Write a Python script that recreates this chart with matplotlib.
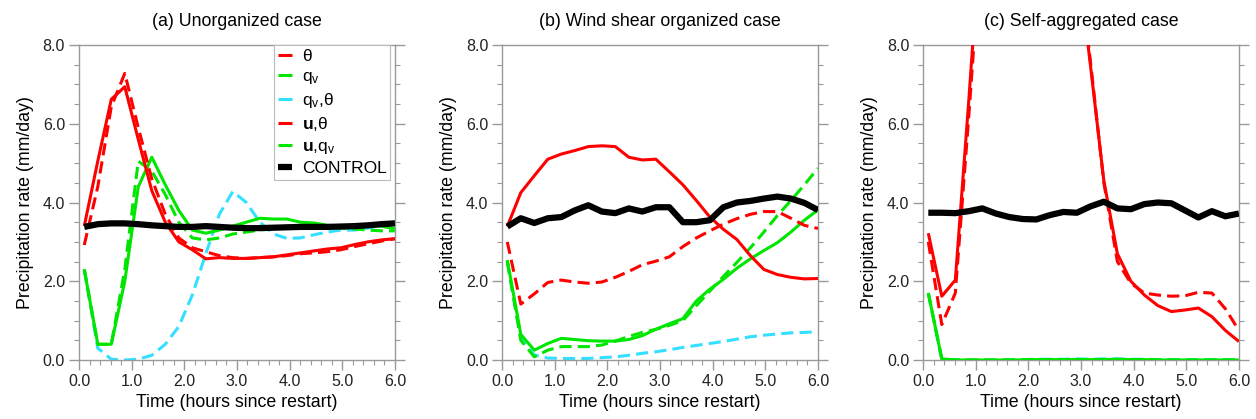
import numpy as np
import matplotlib
matplotlib.use('Agg')
import matplotlib.pyplot as plt
from matplotlib.ticker import MultipleLocator

plt.rcParams['font.family'] = ['Liberation Sans', 'DejaVu Sans']
plt.rcParams['mathtext.fontset'] = 'custom'
plt.rcParams['mathtext.rm'] = 'Liberation Sans'
plt.rcParams['mathtext.it'] = 'Liberation Sans:italic'
plt.rcParams['mathtext.bf'] = 'Liberation Sans:bold'

# output times (hours since restart)
time = np.linspace(0.1, 6.0, 24)

# (a) unorganized case
a_theta = [3.40, 5.05, 6.62, 6.94, 5.60, 4.30, 3.50, 3.00, 2.80, 2.57, 2.60, 2.58,
           2.58, 2.60, 2.62, 2.67, 2.72, 2.77, 2.82, 2.85, 2.93, 3.00, 3.05, 3.08]
a_qv = [2.30, 0.40, 0.40, 2.00, 4.40, 5.15, 4.45, 3.80, 3.30, 3.22, 3.30, 3.40,
        3.50, 3.60, 3.58, 3.58, 3.50, 3.48, 3.42, 3.40, 3.42, 3.42, 3.40, 3.33]
a_qv_theta = [2.30, 0.30, 0.02, 0.00, 0.02, 0.12, 0.40, 0.85, 1.65, 2.70, 3.70, 4.28,
              4.00, 3.50, 3.20, 3.09, 3.10, 3.18, 3.25, 3.30, 3.30, 3.35, 3.42, 3.52]
a_u_theta = [2.92, 4.40, 6.43, 7.28, 5.90, 4.60, 3.70, 3.10, 2.85, 2.75, 2.65, 2.60,
             2.58, 2.60, 2.62, 2.65, 2.70, 2.72, 2.75, 2.80, 2.88, 2.95, 3.02, 3.08]
a_u_qv = [2.30, 0.40, 0.40, 2.30, 5.05, 4.80, 4.20, 3.50, 3.10, 3.05, 3.10, 3.20,
          3.25, 3.30, 3.35, 3.40, 3.40, 3.40, 3.38, 3.35, 3.33, 3.30, 3.28, 3.28]
a_control = [3.38, 3.45, 3.47, 3.47, 3.45, 3.42, 3.40, 3.38, 3.38, 3.40, 3.38, 3.36,
             3.35, 3.35, 3.36, 3.37, 3.38, 3.38, 3.38, 3.39, 3.40, 3.42, 3.45, 3.47]

# (b) wind shear organized case
b_theta = [3.39, 4.25, 4.68, 5.10, 5.23, 5.32, 5.42, 5.44, 5.42, 5.15, 5.08, 5.10,
           4.78, 4.45, 4.05, 3.63, 3.32, 3.06, 2.65, 2.30, 2.17, 2.10, 2.06, 2.07]
b_qv = [2.54, 0.65, 0.25, 0.42, 0.55, 0.52, 0.49, 0.48, 0.48, 0.52, 0.62, 0.78,
        0.92, 1.05, 1.50, 1.80, 2.05, 2.33, 2.57, 2.78, 2.98, 3.25, 3.55, 3.81]
b_qv_theta = [2.50, 0.55, 0.13, 0.05, 0.04, 0.04, 0.04, 0.06, 0.08, 0.12, 0.17, 0.21,
              0.26, 0.32, 0.37, 0.42, 0.47, 0.53, 0.59, 0.63, 0.66, 0.69, 0.70, 0.72]
b_u_theta = [3.00, 1.42, 1.68, 1.97, 2.03, 1.98, 1.95, 1.98, 2.10, 2.25, 2.42, 2.51,
             2.62, 2.88, 3.10, 3.28, 3.45, 3.59, 3.70, 3.77, 3.77, 3.60, 3.42, 3.34]
b_u_qv = [2.50, 0.50, 0.08, 0.25, 0.34, 0.34, 0.34, 0.38, 0.48, 0.60, 0.70, 0.78,
          0.88, 1.00, 1.38, 1.75, 2.12, 2.48, 2.85, 3.25, 3.67, 4.05, 4.45, 4.87]
b_control = [3.39, 3.60, 3.48, 3.60, 3.63, 3.80, 3.93, 3.77, 3.73, 3.85, 3.77, 3.88,
             3.88, 3.50, 3.50, 3.55, 3.88, 4.00, 4.04, 4.10, 4.15, 4.10, 3.99, 3.81]

# (c) self-aggregated case
c_theta = [3.22, 1.62, 2.03, 6.60, 11.5, 14.0, 15.5, 16.0, 15.5, 14.5, 12.8, 10.4,
           7.50, 4.55, 2.70, 2.00, 1.65, 1.38, 1.23, 1.27, 1.32, 1.10, 0.75, 0.47]
c_qv = [1.70, 0.03, 0.00, 0.00, 0.00, 0.00, 0.00, 0.00, 0.01, 0.01, 0.01, 0.01,
        0.01, 0.01, 0.02, 0.01, 0.01, 0.00, 0.00, 0.00, 0.00, 0.00, 0.00, 0.00]
c_qv_theta = [1.70, 0.02, 0.01, 0.00, 0.00, 0.00, 0.01, 0.01, 0.02, 0.02, 0.02, 0.03,
              0.02, 0.03, 0.03, 0.02, 0.02, 0.01, 0.01, 0.01, 0.01, 0.01, 0.01, 0.01]
c_u_theta = [3.00, 0.90, 1.70, 6.20, 11.0, 13.5, 15.0, 15.6, 15.2, 14.3, 12.9, 10.6,
             7.60, 4.50, 2.50, 1.95, 1.70, 1.65, 1.62, 1.63, 1.72, 1.70, 1.30, 0.75]
c_u_qv = [1.70, 0.02, 0.00, 0.00, 0.00, 0.00, 0.00, 0.01, 0.01, 0.01, 0.01, 0.01,
          0.01, 0.01, 0.01, 0.01, 0.01, 0.00, 0.00, 0.00, 0.00, 0.00, 0.00, 0.00]
c_control = [3.74, 3.74, 3.73, 3.78, 3.85, 3.72, 3.63, 3.58, 3.57, 3.68, 3.76, 3.74,
             3.90, 4.02, 3.85, 3.83, 3.96, 4.00, 3.98, 3.80, 3.62, 3.78, 3.65, 3.72]

titles = ['(a) Unorganized case', '(b) Wind shear organized case', '(c) Self-aggregated case']
labels = [r'θ', r'q$_\mathregular{v}$', r'q$_\mathregular{v}$,θ',
          r'$\mathbf{u}$,θ', r'$\mathbf{u}$,q$_\mathregular{v}$', 'CONTROL']
panels = [
    [a_theta, a_qv, a_qv_theta, a_u_theta, a_u_qv, a_control],
    [b_theta, b_qv, b_qv_theta, b_u_theta, b_u_qv, b_control],
    [c_theta, c_qv, c_qv_theta, c_u_theta, c_u_qv, c_control],
]

red, green, cyan = '#ff0000', '#00e600', '#33e0ff'
styles = [
    dict(color=red, ls='-', lw=2.2, zorder=4),
    dict(color=green, ls='-', lw=2.2, zorder=3),
    dict(color=cyan, ls=(0, (4, 2)), lw=2.2, zorder=1),
    dict(color=red, ls=(0, (4, 2)), lw=2.2, zorder=4),
    dict(color=green, ls=(0, (4, 2)), lw=2.2, zorder=2),
    dict(color='black', ls='-', lw=4.5, zorder=5),
]

fig = plt.figure(figsize=(12.56, 4.19), dpi=100)
lefts = [0.0629, 0.3997, 0.7349]
axes = [fig.add_axes([l, 0.1408, 0.2515, 0.7518]) for l in lefts]

for ax, title, series in zip(axes, titles, panels):
    for y, st in zip(series, styles):
        ax.plot(time, y, solid_capstyle='butt', dash_capstyle='butt', **st)
    ax.set_xlim(0, 6)
    ax.set_ylim(0, 8)
    ax.xaxis.set_major_locator(MultipleLocator(1))
    ax.xaxis.set_minor_locator(MultipleLocator(0.2))
    ax.yaxis.set_major_locator(MultipleLocator(2))
    ax.yaxis.set_minor_locator(MultipleLocator(0.5))
    ax.xaxis.set_major_formatter(lambda v, p: f'{v:.1f}')
    ax.yaxis.set_major_formatter(lambda v, p: f'{v:.1f}')
    ax.tick_params(which='both', direction='out', top=False, right=True,
                   color='#999999', labelsize=11.5, labelcolor='#222222')
    ax.tick_params(which='major', length=7, width=1, pad=3)
    ax.tick_params(which='minor', length=3.5, width=0.8)
    for s in ax.spines.values():
        s.set_color('#999999')
        s.set_linewidth(1)
    ax.set_title(title, fontsize=12.8, pad=14)
    ax.set_xlabel('Time (hours since restart)', fontsize=12.8, labelpad=4)
    ax.set_ylabel('Precipitation rate (mm/day)', fontsize=12.8, labelpad=6)

# legend only in the first panel
leg = axes[0].legend(axes[0].get_lines(), labels, loc='upper right',
                     bbox_to_anchor=(0.985, 1.0), fontsize=12.5,
                     handlelength=0.8, handletextpad=0.6, labelspacing=0.3,
                     borderpad=0.2, borderaxespad=0.0, fancybox=False,
                     framealpha=1, edgecolor='#bbbbbb')
leg.get_frame().set_linewidth(0.8)
for h in leg.get_lines():
    h.set_linestyle('-')
leg.set_zorder(10)

fig.savefig('out.png', dpi=100)
